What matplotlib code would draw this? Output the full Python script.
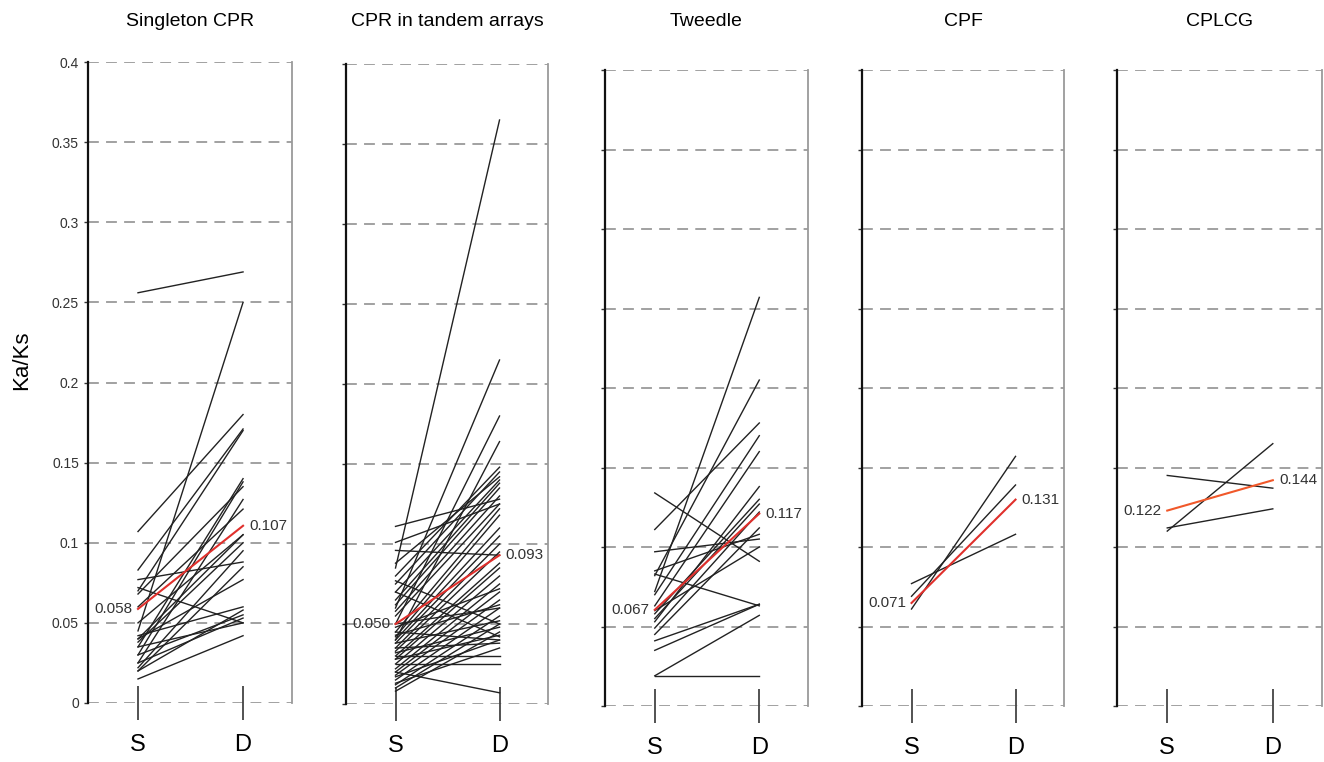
import matplotlib.pyplot as plt

plt.rcParams['font.family'] = ['Liberation Sans', 'DejaVu Sans']

titles = ["Singleton CPR", "CPR in tandem arrays", "Tweedle", "CPF", "CPLCG"]
x_labels = ["S", "D"]
y_ticks = [0, 0.05, 0.1, 0.15, 0.2, 0.25, 0.3, 0.35, 0.4]
y_tick_labels = ["0", "0.05", "0.1", "0.15", "0.2", "0.25", "0.3", "0.35", "0.4"]

# paired Ka/Ks values, S (singleton side) and D (duplicate side)
singleton_s = [0.256, 0.045, 0.107, 0.083, 0.070, 0.035, 0.030, 0.025, 0.072, 0.077,
               0.040, 0.038, 0.022, 0.020, 0.040, 0.042, 0.020, 0.030, 0.035, 0.015,
               0.060, 0.050, 0.025, 0.068]
singleton_d = [0.269, 0.250, 0.180, 0.171, 0.170, 0.140, 0.138, 0.127, 0.050, 0.088,
               0.105, 0.100, 0.095, 0.085, 0.077, 0.060, 0.058, 0.055, 0.050, 0.042,
               0.121, 0.105, 0.053, 0.135]

tandem_s = [0.085, 0.060, 0.050, 0.040, 0.111, 0.101, 0.096, 0.080, 0.075, 0.070,
            0.065, 0.062, 0.058, 0.055, 0.045, 0.042, 0.040, 0.038, 0.035, 0.033,
            0.030, 0.028, 0.025, 0.022, 0.020, 0.018, 0.015, 0.012, 0.010, 0.008,
            0.077, 0.070, 0.045, 0.035, 0.030, 0.025, 0.020, 0.050, 0.048, 0.043,
            0.038, 0.032, 0.028, 0.017, 0.013, 0.088]
tandem_d = [0.365, 0.215, 0.180, 0.164, 0.128, 0.125, 0.093, 0.148, 0.145, 0.140,
            0.138, 0.135, 0.130, 0.125, 0.122, 0.118, 0.110, 0.105, 0.100, 0.095,
            0.088, 0.085, 0.080, 0.075, 0.070, 0.065, 0.060, 0.055, 0.050, 0.045,
            0.050, 0.042, 0.040, 0.038, 0.030, 0.025, 0.007, 0.060, 0.072, 0.062,
            0.052, 0.048, 0.043, 0.040, 0.035, 0.142]

tweedle_s = [0.019, 0.019, 0.035, 0.041, 0.083, 0.134, 0.111, 0.097, 0.072, 0.082,
             0.070, 0.063, 0.053, 0.058, 0.055, 0.049, 0.045, 0.085, 0.060]
tweedle_d = [0.019, 0.057, 0.064, 0.064, 0.063, 0.091, 0.178, 0.105, 0.257, 0.205,
             0.170, 0.160, 0.138, 0.130, 0.127, 0.122, 0.112, 0.108, 0.100]

cpf_s = [0.061, 0.069, 0.077]
cpf_d = [0.157, 0.139, 0.108]

cplcg_s = [0.145, 0.110, 0.112]
cplcg_d = [0.137, 0.165, 0.124]

# red line: mean of each group
red_s = [0.0587, 0.050, 0.0605, 0.0648, 0.1229]
red_d = [0.1106, 0.093, 0.121, 0.1298, 0.142]
mean_s_text = ["0.058", "0.050", "0.067", "0.071", "0.122"]
mean_d_text = ["0.107", "0.093", "0.117", "0.131", "0.144"]
red_colors = ["#e0302c", "#e0302c", "#e0302c", "#e0302c", "#f0582a"]

groups = [(singleton_s, singleton_d), (tandem_s, tandem_d), (tweedle_s, tweedle_d),
          (cpf_s, cpf_d), (cplcg_s, cplcg_d)]

W, H = 1324, 762
# panel boxes in pixels: left, right, top, bottom
boxes = [(88, 292, 62, 703), (346, 548, 64, 704), (605, 808, 70, 706),
         (862, 1064, 70, 706), (1117, 1322, 70, 706)]

fig = plt.figure(figsize=(W / 100, H / 100), dpi=100)

for i, (l, r, t, b) in enumerate(boxes):
    ax = fig.add_axes([l / W, 1 - b / H, (r - l) / W, (b - t) / H])
    s_vals, d_vals = groups[i]
    for s, d in zip(s_vals, d_vals):
        ax.plot([0, 1], [s, d], color="#222222", lw=1.0, zorder=3)
    ax.plot([0, 1], [red_s[i], red_d[i]], color=red_colors[i], lw=1.5, zorder=4)
    ax.text(-0.05, red_s[i], mean_s_text[i], ha="right", va="center",
            fontsize=11, color="#333333", zorder=5)
    ax.text(1.06, red_d[i], mean_d_text[i], ha="left", va="center",
            fontsize=11, color="#333333", zorder=5)

    ax.set_xlim(-0.476, 1.466)
    ax.set_ylim(0, 0.4)
    ax.set_xticks([0, 1])
    ax.set_xticklabels(x_labels, fontsize=17)
    ax.tick_params(axis="x", direction="inout", length=24, width=1.3,
                   color="#444444", pad=10)
    ax.set_yticks(y_ticks)
    if i == 0:
        ax.set_yticklabels(y_tick_labels, fontsize=10, color="#333333")
    else:
        ax.set_yticklabels([])
    ax.tick_params(axis="y", direction="out", length=3, width=1, color="#333333")

    for y in y_ticks:
        ax.axhline(y, color="#9a9a9a", lw=1.3, ls=(0, (6, 4)), zorder=1)

    ax.spines["top"].set_visible(False)
    ax.spines["bottom"].set_visible(False)
    ax.spines["left"].set_color("#111111")
    ax.spines["left"].set_linewidth(1.6)
    ax.spines["right"].set_color("#9a9a9a")
    ax.spines["right"].set_linewidth(1.3)

    # title centred at about y = 22 px from the top of the figure
    fig.text((l + r) / 2 / W, 1 - 22 / H, titles[i], ha="center", va="center",
             fontsize=14)

fig.text(22 / W, 1 - 360 / H, "Ka/Ks", rotation=90, ha="center", va="center",
         fontsize=16)

fig.savefig("out.png", dpi=100)
